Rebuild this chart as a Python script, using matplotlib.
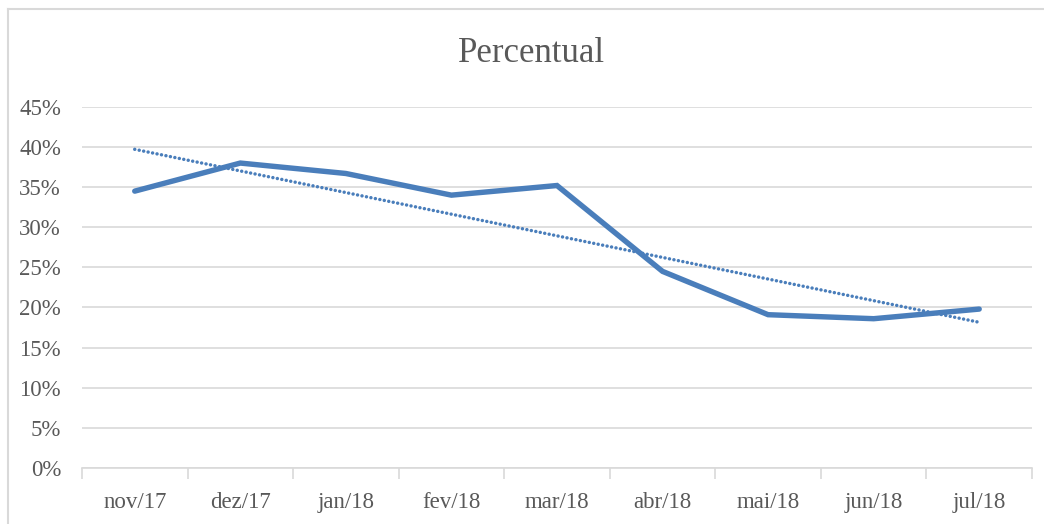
import matplotlib
matplotlib.use('Agg')
import matplotlib.pyplot as plt
import numpy as np
from matplotlib.ticker import FuncFormatter, FixedLocator

# dados
meses = ['nov/17', 'dez/17', 'jan/18', 'fev/18', 'mar/18', 'abr/18', 'mai/18', 'jun/18', 'jul/18']
percentual = [0.345, 0.380, 0.367, 0.340, 0.352, 0.245, 0.191, 0.186, 0.198]

azul = '#4a7ebb'
cinza = '#595959'
grade = '#d9d9d9'

plt.rcParams['font.family'] = ['Liberation Serif', 'DejaVu Serif']

fig = plt.figure(figsize=(10.44, 5.24), dpi=100)
ax = fig.add_axes([0.0785, 0.107, 0.91, 0.689])

x = np.arange(len(meses))
ax.plot(x, percentual, color=azul, linewidth=3.9, solid_joinstyle='miter',
        solid_capstyle='round', zorder=3)

# linha de tendencia linear
coef = np.polyfit(x, percentual, 1)
ax.plot(x, np.polyval(coef, x), color=azul, linewidth=2.5, linestyle=(0, (0.01, 1.3)),
        dash_capstyle='round', zorder=2)

ax.set_xlim(-0.5, len(meses) - 0.5)
ax.set_ylim(0, 0.45)
ax.set_yticks(np.arange(0, 0.46, 0.05))
ax.yaxis.set_major_formatter(FuncFormatter(lambda v, p: '%d%%' % round(v * 100)))
ax.set_xticks(x)
ax.set_xticklabels(meses)
ax.xaxis.set_minor_locator(FixedLocator(np.arange(-0.5, len(meses), 1)))

ax.grid(axis='y', color=grade, linewidth=1.2)
ax.set_axisbelow(True)
for s in ['top', 'right', 'left']:
    ax.spines[s].set_visible(False)
ax.spines['bottom'].set_color(grade)
ax.spines['bottom'].set_linewidth(1.2)

ax.tick_params(axis='y', length=0, labelsize=16.5, labelcolor=cinza, pad=15)
ax.tick_params(axis='x', which='major', length=0, labelsize=16.5, labelcolor=cinza, pad=17)
ax.tick_params(axis='x', which='minor', length=8, color=grade, width=1.2)

fig.text(0.509, 0.897, 'Percentual', ha='center', va='center', fontsize=25, color=cinza)

# moldura do grafico (so esquerda e topo aparecem)
fig.add_artist(plt.Line2D([0.0075, 0.0075], [0, 0.982], transform=fig.transFigure,
                          color=grade, linewidth=1.5))
fig.add_artist(plt.Line2D([0.0075, 1], [0.982, 0.982], transform=fig.transFigure,
                          color=grade, linewidth=1.5))

plt.savefig('out.png', dpi=100)
plt.close()
